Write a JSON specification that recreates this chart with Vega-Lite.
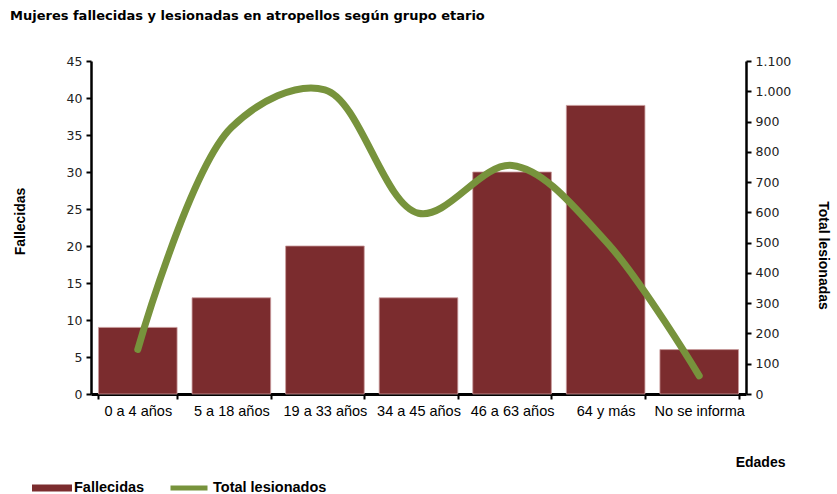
{
  "$schema": "https://vega.github.io/schema/vega-lite/v6.json",
  "autosize": {"type": "none"},
  "width": 655,
  "height": 333,
  "padding": {"left": 91, "top": 61, "right": 91, "bottom": 100},
  "background": "white",
  "config": {"view": {"stroke": null}, "font": "DejaVu Sans"},
  "title": {
    "text": "Mujeres fallecidas y lesionadas en atropellos según grupo etario",
    "anchor": "start",
    "frame": "group",
    "dx": -81,
    "offset": 32,
    "font": "DejaVu Sans",
    "fontSize": 13,
    "fontWeight": "bold",
    "color": "#000000"
  },
  "data": {
    "values": [
      {"edad": "0 a 4 años", "fallecidas": 9, "lesionados": 147},
      {"edad": "5 a 18 años", "fallecidas": 13, "lesionados": 880},
      {"edad": "19 a 33 años", "fallecidas": 20, "lesionados": 1005},
      {"edad": "34 a 45 años", "fallecidas": 13, "lesionados": 597},
      {"edad": "46 a 63 años", "fallecidas": 30, "lesionados": 755},
      {"edad": "64 y más", "fallecidas": 39, "lesionados": 505},
      {"edad": "No se informa", "fallecidas": 6, "lesionados": 60}
    ]
  },
  "encoding": {
    "x": {
      "field": "edad",
      "type": "nominal",
      "sort": null,
      "scale": {"paddingInner": 0.16, "paddingOuter": 0.08},
      "axis": {
        "title": "Edades",
        "titleX": 694,
        "titleY": 61,
        "titleAlign": "right",
        "titleFont": "Liberation Sans",
        "titleFontSize": 14,
        "titleFontWeight": "bold",
        "titleColor": "#000000",
        "labelAngle": 0,
        "labelFont": "Liberation Sans",
        "labelFontSize": 14.5,
        "labelColor": "#000000",
        "labelPadding": 5,
        "domainColor": "#000000",
        "domainWidth": 3,
        "tickColor": "#000000",
        "tickWidth": 2,
        "tickSize": 5,
        "tickBand": "extent"
      }
    }
  },
  "layer": [
    {
      "mark": {"type": "bar", "stroke": "#c99a9c", "strokeWidth": 0.8},
      "encoding": {
        "y": {
          "field": "fallecidas",
          "type": "quantitative",
          "scale": {"domain": [0, 45], "nice": false},
          "axis": {
            "title": "Fallecidas",
            "titleX": -71,
            "titleY": 160,
            "titleAngle": 270,
            "titleAlign": "center",
            "titleBaseline": "middle",
            "titleFont": "Liberation Sans",
            "titleFontSize": 14,
            "titleFontWeight": "bold",
            "titleColor": "#000000",
            "values": [0, 5, 10, 15, 20, 25, 30, 35, 40, 45],
            "grid": false,
            "labelFont": "DejaVu Sans",
            "labelFontSize": 12.5,
            "labelColor": "#222222",
            "labelPadding": 4,
            "domainColor": "#000000",
            "domainWidth": 2.5,
            "tickColor": "#000000",
            "tickWidth": 2,
            "tickSize": 5
          }
        },
        "fill": {
          "datum": "Fallecidas",
          "scale": {"range": ["#7B2C2E"]},
          "legend": {
            "title": null,
            "orient": "none",
            "legendX": -59,
            "legendY": 407,
            "symbolType": "M-1,-0.18H1V0.18H-1Z",
            "symbolSize": 1600,
            "symbolStrokeWidth": 0,
            "labelFont": "Liberation Sans",
            "labelFontSize": 14.5,
            "labelFontWeight": "bold",
            "labelColor": "#000000",
            "labelOffset": 2
          }
        }
      }
    },
    {
      "mark": {"type": "line", "interpolate": "catmull-rom", "strokeWidth": 7, "strokeCap": "round"},
      "encoding": {
        "y": {
          "field": "lesionados",
          "type": "quantitative",
          "scale": {"domain": [0, 1100], "nice": false},
          "axis": {
            "orient": "right",
            "title": "Total lesionadas",
            "titleX": 76,
            "titleY": 194,
            "titleAngle": 90,
            "titleAlign": "center",
            "titleBaseline": "middle",
            "titleFont": "Liberation Sans",
            "titleFontSize": 14,
            "titleFontWeight": "bold",
            "titleColor": "#000000",
            "values": [0, 100, 200, 300, 400, 500, 600, 700, 800, 900, 1000, 1100],
            "labelExpr": "replace(format(datum.value, ','), ',', '.')",
            "grid": false,
            "labelFont": "DejaVu Sans",
            "labelFontSize": 12.5,
            "labelColor": "#222222",
            "labelPadding": 4,
            "domainColor": "#000000",
            "domainWidth": 2.5,
            "tickColor": "#000000",
            "tickWidth": 2,
            "tickSize": 5
          }
        },
        "stroke": {
          "datum": "Total lesionados",
          "scale": {"range": ["#77933C"]},
          "legend": {
            "title": null,
            "orient": "none",
            "legendX": 77,
            "legendY": 406,
            "symbolType": "stroke",
            "symbolSize": 1369,
            "symbolStrokeWidth": 5,
            "labelFont": "Liberation Sans",
            "labelFontSize": 14.5,
            "labelFontWeight": "bold",
            "labelColor": "#000000",
            "labelOffset": 3
          }
        }
      }
    }
  ],
  "resolve": {"scale": {"y": "independent"}}
}
